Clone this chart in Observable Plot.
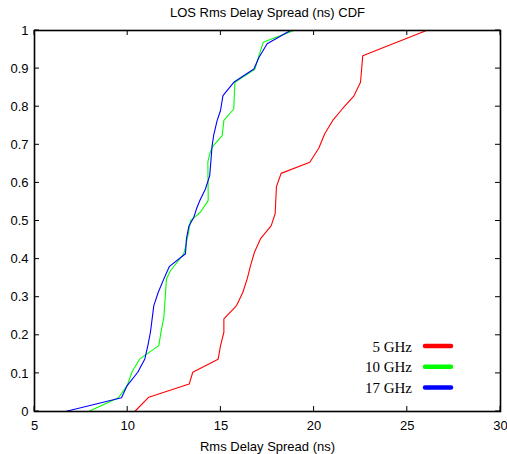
<!DOCTYPE html>
<html>
<head>
<meta charset="utf-8">
<script src="https://cdn.jsdelivr.net/npm/d3@7"></script>
<script src="https://cdn.jsdelivr.net/npm/@observablehq/plot@0.6"></script>
<style>
  html, body { margin: 0; padding: 0; background: #fff; }
</style>
</head>
<body>
<div id="chart"></div>
<script>
const title = "LOS Rms Delay Spread (ns) CDF";
const xLabel = "Rms Delay Spread (ns)";
const seriesNames = ["5 GHz", "10 GHz", "17 GHz"];
const seriesColors = ["#ff0000", "#00ff00", "#0000ff"];
const xTicks = [5, 10, 15, 20, 25, 30];
const yTicks = [0, 0.1, 0.2, 0.3, 0.4, 0.5, 0.6, 0.7, 0.8, 0.9, 1];

const ghz5 = [
  [10.38,0],[11.13,0.0375],[13.30,0.072],[13.49,0.103],[14.85,0.137],[14.98,0.173],
  [15.16,0.208],[15.16,0.243],[15.84,0.278],[16.18,0.313],[16.41,0.348],[16.59,0.383],
  [16.80,0.418],[17.12,0.453],[17.70,0.488],[17.91,0.519],[17.98,0.590],[18.23,0.625],
  [19.77,0.654],[20.25,0.691],[20.57,0.729],[21.00,0.764],[21.51,0.794],[22.13,0.828],
  [22.49,0.864],[22.61,0.934],[26.03,1.0]
];
const ghz10 = [
  [7.91,0],[9.50,0.036],[9.97,0.068],[10.24,0.105],[10.65,0.138],[11.67,0.173],
  [11.80,0.213],[11.94,0.247],[11.99,0.283],[12.08,0.348],[12.30,0.370],[13.01,0.414],
  [13.14,0.440],[13.28,0.475],[13.37,0.501],[13.90,0.523],[14.32,0.554],[14.30,0.655],
  [14.40,0.676],[14.53,0.694],[15.07,0.724],[15.16,0.764],[15.69,0.794],[15.75,0.864],
  [16.82,0.898],[17.04,0.934],[17.27,0.969],[18.91,1.0]
];
const ghz17 = [
  [6.66,0],[9.67,0.036],[9.97,0.068],[10.54,0.103],[10.92,0.138],[11.08,0.173],
  [11.22,0.208],[11.40,0.278],[11.64,0.313],[11.94,0.348],[12.24,0.381],[13.10,0.414],
  [13.15,0.453],[13.28,0.486],[13.55,0.510],[13.69,0.532],[13.87,0.554],[14.17,0.584],
  [14.40,0.619],[14.53,0.698],[14.62,0.727],[14.80,0.764],[14.98,0.790],[15.11,0.829],
  [15.69,0.864],[16.77,0.899],[17.04,0.929],[17.48,0.965],[18.73,1.0]
];

const series = [ghz5, ghz10, ghz17];
const rows = series.flatMap((pts, i) => pts.map(([x, y]) => ({x, y, s: seriesNames[i]})));

const W = 507, H = 454;
const fmtY = d => String(+d.toFixed(1));

const chart = Plot.plot({
  width: W,
  height: H,
  marginLeft: 34,
  marginRight: 7,
  marginTop: 30,
  marginBottom: 43,
  style: {fontFamily: "'Liberation Sans', Arial, sans-serif", fontSize: "13px", color: "#000", background: "#fff", overflow: "visible"},
  x: {domain: [5, 30], ticks: xTicks, tickSize: 0, tickPadding: 9, label: null},
  y: {domain: [0, 1], ticks: yTicks, tickSize: 0, tickPadding: 6, tickFormat: fmtY, label: null},
  color: {domain: seriesNames, range: seriesColors},
  marks: [
    Plot.lineY(rows, {x: "x", y: "y", z: "s", stroke: "s", strokeWidth: 1.1}),
    Plot.frame({stroke: "#000", strokeWidth: 1.6}),
    Plot.text([xLabel], {frameAnchor: "bottom", dy: 35, lineAnchor: "middle", fontSize: 13, fill: "#000"}),
    Plot.text([title], {frameAnchor: "top", dy: -18, lineAnchor: "middle", fontSize: 13, fill: "#000"})
  ]
});

document.getElementById("chart").appendChild(chart);

// Inward, mirrored ticks drawn from the chart's own scales
const sx = chart.scale("x"), sy = chart.scale("y");
const fx = sx.apply ? sx.apply : d3.scaleLinear(sx.domain, sx.range);
const fy = sy.apply ? sy.apply : d3.scaleLinear(sy.domain, sy.range);
const [xL, xR] = sx.range, [yB, yT] = sy.range;
const tl = 5;
const svg = d3.select(chart);
const tg = svg.append("g").attr("stroke", "#000").attr("stroke-width", 1);
xTicks.forEach(v => {
  const px = fx(v);
  tg.append("line").attr("x1", px).attr("x2", px).attr("y1", yB).attr("y2", yB - tl);
  tg.append("line").attr("x1", px).attr("x2", px).attr("y1", yT).attr("y2", yT + tl);
});
yTicks.forEach(v => {
  const py = fy(v);
  tg.append("line").attr("x1", xL).attr("x2", xL + tl).attr("y1", py).attr("y2", py);
  tg.append("line").attr("x1", xR).attr("x2", xR - tl).attr("y1", py).attr("y2", py);
});

// Legend (gnuplot style, inside plot, bottom right)
const lg = svg.append("g").attr("class", "legend");
const legendRight = 412, lineX1 = 425, lineX2 = 451, legendY0 = 346.5, legendStep = 20.7;
seriesNames.forEach((name, i) => {
  const y = legendY0 + i * legendStep;
  lg.append("text")
    .attr("x", legendRight).attr("y", y)
    .attr("text-anchor", "end").attr("dominant-baseline", "central")
    .attr("font-family", "'Liberation Serif', 'Times New Roman', serif")
    .attr("font-size", 15).attr("fill", "#000")
    .text(name);
  lg.append("line")
    .attr("x1", lineX1).attr("x2", lineX2).attr("y1", y - 0.5).attr("y2", y - 0.5)
    .attr("stroke", seriesColors[i]).attr("stroke-width", 4.5).attr("stroke-linecap", "round");
});
</script>
</body>
</html>
